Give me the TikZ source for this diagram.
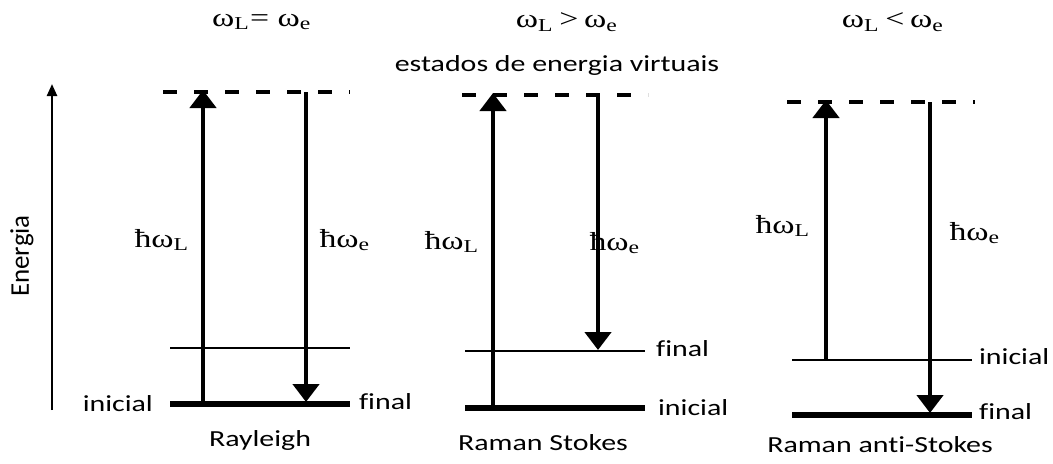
\documentclass[tikz,border=0pt]{standalone}
\usepackage{fontspec}
\setmainfont[Ligatures=NoCommon]{Carlito}
\newfontfamily\symfont{Liberation Serif}
\usetikzlibrary{arrows.meta}

\newcommand{\hwL}{ħω\textsubscript{L}}
\newcommand{\hwe}{ħω\textsubscript{e}}

\begin{document}
\begin{tikzpicture}[x=0.5pt,y=-0.5pt,
    lvl/.style={line width=2.6pt},
    thinlvl/.style={line width=0.6pt},
    virt/.style={line width=2pt, dash pattern=on 7pt off 8.5pt},
    trans/.style={line width=2.3pt, -{Triangle[length=9pt,width=13pt]}},
    lab/.style={font=\fontsize{11.5}{13}\selectfont, xscale=1.3, transform shape, inner sep=1pt},
    sym/.style={font=\symfont\fontsize{13}{15}\selectfont, xscale=1.3, transform shape, inner sep=1pt}
]
\useasboundingbox (0,0) rectangle (1053,463);

% energy axis
\coordinate (ax-b) at (52,410);
\coordinate (ax-t) at (52,84);
\draw[line width=1.2pt, -{Triangle[length=6pt,width=5pt]}] (ax-b) -- (ax-t);
\node[font=\fontsize{13.5}{15}\selectfont, rotate=90] (energia) at (22,256) {Energia};

% titles
\node[sym] (t-ray) at (262,22) {ω\textsubscript{L}= ω\textsubscript{e}};
\node[sym] (t-sto) at (567,22) {ω\textsubscript{L}\,>\,ω\textsubscript{e}};
\node[sym] (t-ant) at (893,22) {ω\textsubscript{L}\,<\,ω\textsubscript{e}};
\node[lab] (virtual) at (557,65) {estados de energia virtuais};

% Rayleigh
\draw[virt] (163,92) -- (350,92);
\draw[thinlvl] (170,348) -- (350,348);
\draw[lvl] (170,404) -- (350,404);
\coordinate (ray-up-b) at (203,404);
\coordinate (ray-up-t) at (203,90);
\coordinate (ray-dn-t) at (306,92);
\coordinate (ray-dn-b) at (306,402);
\draw[trans] (ray-up-b) -- (ray-up-t);
\draw[trans] (ray-dn-t) -- (ray-dn-b);
\node[sym] (ray-wl) at (162,240) {\hwL};
\node[sym] (ray-we) at (345,240) {\hwe};
\node[lab, anchor=east] (ray-ini) at (156,404) {inicial};
\node[lab, anchor=west] (ray-fin) at (356,402) {final};
\node[lab] (ray-name) at (260,440) {Rayleigh};

% Raman Stokes
\draw[virt] (462,95) -- (648,95);
\draw[thinlvl] (465,351) -- (645,351);
\draw[lvl] (465,408) -- (645,408);
\coordinate (sto-up-b) at (493,408);
\coordinate (sto-up-t) at (493,93);
\coordinate (sto-dn-t) at (598,95);
\coordinate (sto-dn-b) at (598,350);
\draw[trans] (sto-up-b) -- (sto-up-t);
\draw[trans] (sto-dn-t) -- (sto-dn-b);
\node[sym] (sto-wl) at (452,242) {\hwL};
\node[sym] (sto-we) at (615,243) {\hwe};
\node[lab, anchor=west] (sto-fin) at (653,349) {final};
\node[lab, anchor=west] (sto-ini) at (655,408) {inicial};
\node[lab] (sto-name) at (543,443) {Raman Stokes};

% Raman anti-Stokes
\draw[virt] (787,102) -- (975,102);
\draw[thinlvl] (792,360) -- (972,360);
\draw[lvl] (792,415) -- (972,415);
\coordinate (ant-up-b) at (826,360);
\coordinate (ant-up-t) at (826,100);
\coordinate (ant-dn-t) at (930,102);
\coordinate (ant-dn-b) at (930,413);
\draw[trans] (ant-up-b) -- (ant-up-t);
\draw[trans] (ant-dn-t) -- (ant-dn-b);
\node[sym] (ant-wl) at (783,226) {\hwL};
\node[sym] (ant-we) at (975,233) {\hwe};
\node[lab, anchor=west] (ant-ini) at (976,357) {inicial};
\node[lab, anchor=west] (ant-fin) at (976,412) {final};
\node[lab] (ant-name) at (880,445) {Raman anti-Stokes};
\end{tikzpicture}
\end{document}
